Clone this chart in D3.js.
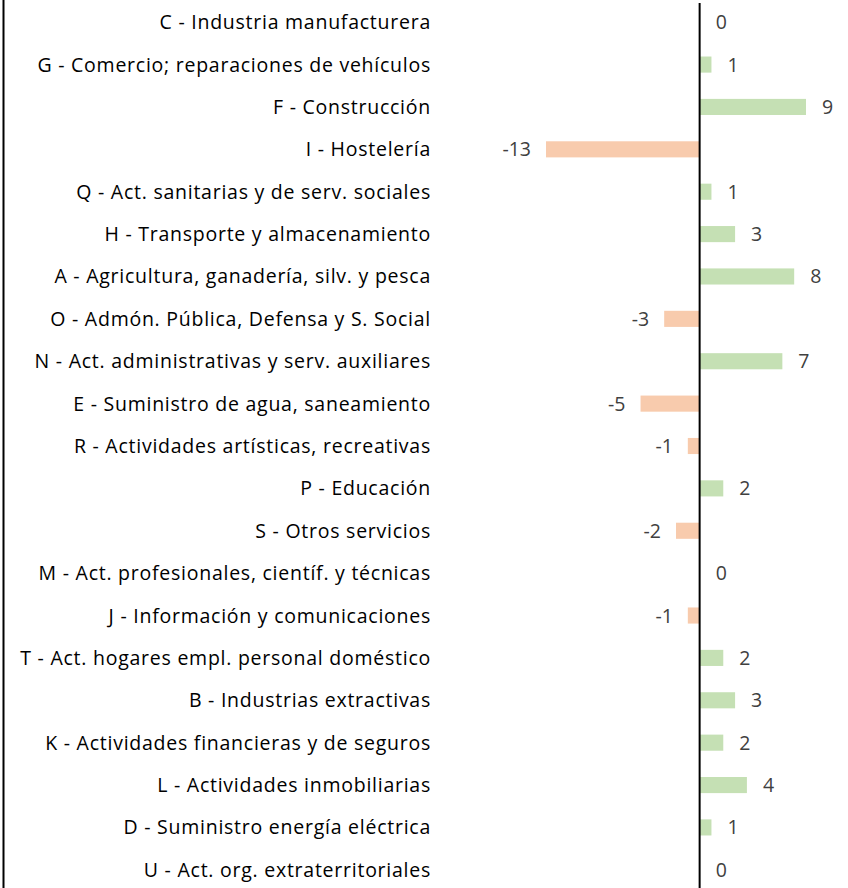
<!DOCTYPE html>
<html>
<head>
    <meta charset="utf-8">
    <title>Variación por sector</title>
    <script src="https://d3js.org/d3.v7.min.js"></script>
    <style>
        body { margin: 0; background: #fff; }
    </style>
</head>
<body>
    <div id="chart"></div>
    <script>
        var sectors = [
            "C - Industria manufacturera",
            "G - Comercio; reparaciones de vehículos",
            "F - Construcción",
            "I - Hostelería",
            "Q - Act. sanitarias y de serv. sociales",
            "H - Transporte y almacenamiento",
            "A - Agricultura, ganadería, silv. y pesca",
            "O - Admón. Pública, Defensa y S. Social ",
            "N - Act. administrativas y serv. auxiliares",
            "E - Suministro de agua, saneamiento",
            "R - Actividades artísticas, recreativas",
            "P - Educación",
            "S - Otros servicios",
            "M - Act. profesionales, científ. y técnicas",
            "J - Información y comunicaciones",
            "T - Act. hogares empl. personal doméstico",
            "B - Industrias extractivas",
            "K - Actividades financieras y de seguros",
            "L - Actividades inmobiliarias",
            "D - Suministro energía eléctrica",
            "U - Act. org. extraterritoriales"
        ];
        var values = [0, 1, 9, -13, 1, 3, 8, -3, 7, -5, -1, 2, -2, 0, -1, 2, 3, 2, 4, 1, 0];

        var width = 848, height = 888;

        var svg = d3.select("#chart")
            .append("svg")
                .attr("width", width)
                .attr("height", height);

        var x = d3.scaleLinear()
            .domain([-13, 9])
            .range([546, 806]);

        var y = d3.scaleBand()
            .domain(sectors)
            .range([1, 891])
            .paddingInner(0.62)
            .paddingOuter(0.31);

        var rows = sectors.map(function(s, i) { return {name: s, value: values[i]}; });

        // left frame line
        svg.append("line")
            .attr("x1", 3.5).attr("x2", 3.5)
            .attr("y1", 0).attr("y2", height)
            .attr("stroke", "#000")
            .attr("stroke-width", 2);

        svg.selectAll("rect.bar")
            .data(rows)
            .enter()
            .append("rect")
                .attr("class", "bar")
                .attr("x", function(d) { return x(Math.min(0, d.value)); })
                .attr("y", function(d) { return y(d.name); })
                .attr("width", function(d) { return Math.abs(x(d.value) - x(0)); })
                .attr("height", y.bandwidth())
                .style("fill", function(d) { return d.value < 0 ? "#F8CBAD" : "#C5E0B4"; });

        // zero axis
        svg.append("line")
            .attr("x1", x(0)).attr("x2", x(0))
            .attr("y1", 3).attr("y2", height)
            .attr("stroke", "#000")
            .attr("stroke-width", 2);

        svg.selectAll("text.cat")
            .data(rows)
            .enter()
            .append("text")
                .attr("class", "cat")
                .attr("x", 431)
                .attr("y", function(d) { return y(d.name) + y.bandwidth() / 2 + 7; })
                .style("text-anchor", "end")
                .style("font-family", "'Open Sans', sans-serif")
                .style("font-size", "19.5px")
                .style("letter-spacing", "0.75px")
                .style("fill", "#000")
                .text(function(d) { return d.name; });

        svg.selectAll("text.val")
            .data(rows)
            .enter()
            .append("text")
                .attr("class", "val")
                .attr("x", function(d) { return d.value < 0 ? x(d.value) - 15 : x(d.value) + 16; })
                .attr("y", function(d) { return y(d.name) + y.bandwidth() / 2 + 7; })
                .style("text-anchor", function(d) { return d.value < 0 ? "end" : "start"; })
                .style("font-family", "'Open Sans', sans-serif")
                .style("font-size", "19.5px")
                .style("fill", "#404040")
                .text(function(d) { return d.value; });
    </script>
</body>
</html>
